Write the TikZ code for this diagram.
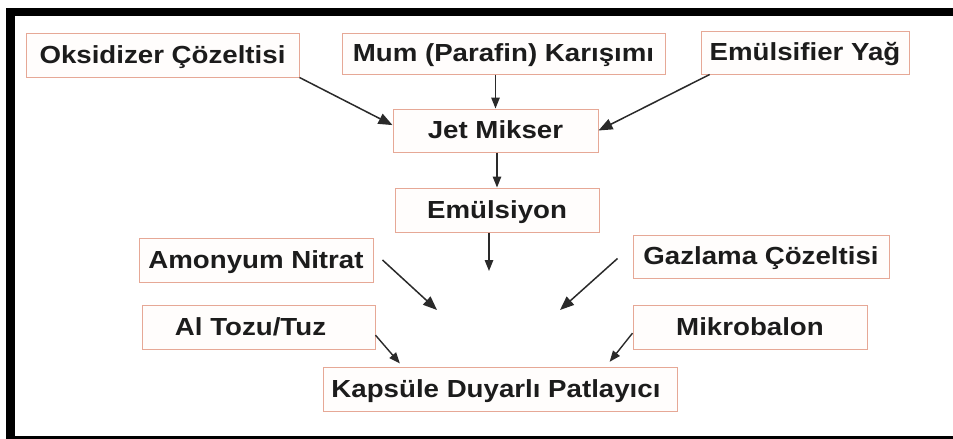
\documentclass[tikz,border=0pt]{standalone}
\usepackage{fontspec}
\setmainfont[FakeStretch=1.12]{Liberation Sans}
\usetikzlibrary{arrows.meta}
\begin{document}
\begin{tikzpicture}[x=1pt,y=-1pt,
  box/.style={draw=boxline, line width=1pt, fill=boxfill, inner sep=0pt,
    text height=20pt, text depth=4pt,
    font=\fontsize{24.7}{28}\selectfont\bfseries, text=txt},
  conn/.style={draw=lineclr, line width=1.5pt, -{Triangle[length=14pt,width=11pt]}},
  connsm/.style={draw=lineclr, line width=1.4pt, -{Triangle[length=11pt,width=8.5pt]}}]
\definecolor{boxline}{HTML}{E6A896}
\definecolor{boxfill}{HTML}{FFFDFC}
\definecolor{lineclr}{HTML}{2A2A2A}
\definecolor{txt}{HTML}{1C1C1C}
\useasboundingbox (0,0) rectangle (953,439);
% frame
\fill[black] (6,8) rectangle (953,16);
\fill[black] (6,8) rectangle (15,439);
\fill[black] (6,436) rectangle (953,439);
% boxes
\node[box, minimum width=273pt, minimum height=44pt] (oks) at (162.5,55) {Oksidizer Çözeltisi};
\node[box, minimum width=323pt, minimum height=41pt] (mum) at (503.5,53.5) {Mum (Parafin) Karışımı};
\node[box, minimum width=208pt, minimum height=43pt] (emf) at (805,52.5) {Emülsifier Yağ};
\node[box, minimum width=205pt, minimum height=43pt] (jet) at (495.5,130.5) {Jet Mikser};
\node[box, minimum width=204pt, minimum height=44pt] (emls) at (497,210) {Emülsiyon};
\node[box, minimum width=234pt, minimum height=44pt] (amn) at (256,260) {Amonyum Nitrat};
\node[box, minimum width=256pt, minimum height=43pt] (gaz) at (761,256.5) {Gazlama Çözeltisi};
\node[box, minimum width=233pt, minimum height=44pt] (alt) at (258.5,327) {Al Tozu/Tuz\hspace*{16pt}};
\node[box, minimum width=234pt, minimum height=44pt] (mik) at (750,327) {Mikrobalon};
\node[box, minimum width=354pt, minimum height=44pt] (kap) at (500,389) {Kapsüle Duyarlı Patlayıcı\hspace*{8pt}};
% free ends
\coordinate (c1) at (489,271);
\coordinate (c2) at (437,310);
\coordinate (c3) at (560,310);
% connectors
\draw[conn] (oks.south east) -- (jet.177);
\draw[connsm] (jet.north |- mum.south) -- (jet.north);
\draw[conn] (emf.193) -- (jet.east);
\draw[connsm] (jet.south -| emls.north) -- (emls.north);
\draw[connsm] (emls.south -| c1) -- (c1);
\draw[conn] ([xshift=9pt]amn.east) -- (c2);
\draw[conn] ([xshift=-15pt,yshift=-2pt]gaz.west) -- (c3);
\draw[connsm, shorten >=4pt] (alt.-4) -- (kap.167);
\draw[connsm, shorten >=6pt] (mik.183) -- (kap.12.5);
\end{tikzpicture}
\end{document}
